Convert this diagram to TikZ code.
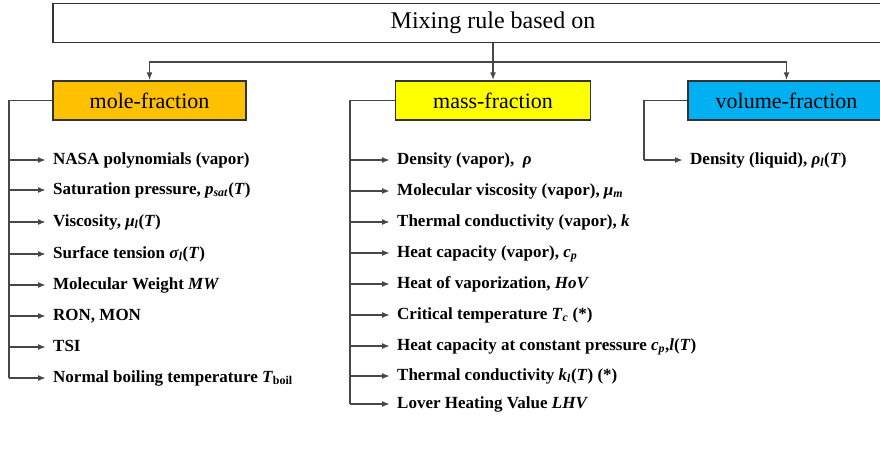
\documentclass[tikz,border=0pt]{standalone}
\usepackage{fontspec}
\setmainfont{Liberation Serif}
\usetikzlibrary{arrows.meta}
\definecolor{moleorange}{HTML}{FFC000}
\definecolor{massyellow}{HTML}{FFFF00}
\definecolor{volblue}{HTML}{00B0F0}
\definecolor{boxline}{HTML}{333333}
\definecolor{wiregray}{HTML}{474747}
\begin{document}
\begin{tikzpicture}[x=1pt,y=-1pt,
  head/.style={draw=boxline,line width=1.5pt,fill=#1,minimum height=39pt,inner sep=0pt,font=\fontsize{22}{26}\selectfont},
  item/.style={anchor=west,inner sep=1pt,text height=12pt,text depth=4pt,font=\fontsize{17}{20}\selectfont\bfseries},
  wire/.style={draw=wiregray,line width=1.7pt},
  down/.style={wire,-{Latex[length=8pt,width=6pt]}},
  tip/.style={down,shorten >=6pt}]
\useasboundingbox (0,0) rectangle (880,450);
% headers
\node[head=white,minimum width=880pt,font=\fontsize{24}{28}\selectfont] (mix) at (493,23) {Mixing rule based on};
\node[head=moleorange,minimum width=193pt] (mole) at (149.5,100.5) {mole-fraction};
\node[head=massyellow,minimum width=195pt] (mass) at (493,100.5) {mass-fraction};
\node[head=volblue,minimum width=197pt] (vol) at (786.5,100.5) {volume-fraction};
\coordinate (split) at (493,62);
\draw[down] (mix.south) -- (mass.north);
\draw[down] (split) -| (mole.north);
\draw[down] (split) -| (vol.north);
% mole-fraction branch
\coordinate (moletrunk) at (9,0);
\foreach \y/\t [count=\i] in {160/{NASA polynomials (vapor)},
  190/{Saturation pressure, \textit{p}\textsubscript{\textit{sat}}(\textit{T})},
  222/{Viscosity, \textit{μ}\textsubscript{\textit{l}}(\textit{T})},
  254/{Surface tension \textit{σ}\textsubscript{\textit{l}}(\textit{T})},
  285/{Molecular Weight \textit{MW}},
  316/{RON, MON},
  347/{TSI},
  378/{Normal boiling temperature \textit{T}\textsubscript{boil}}}
  \node[item] (mo\i) at (52,\y) {\t};
\draw[wire] (mole.west) -| (moletrunk |- mo8.west);
\foreach \i in {1,...,8}
  \draw[tip] (moletrunk |- mo\i.west) -- (mo\i.west);
% mass-fraction branch
\coordinate (masstrunk) at (350,0);
\foreach \y/\t [count=\i] in {160/{Density (vapor),~ \textit{ρ}},
  191/{Molecular viscosity (vapor), \textit{μ}\textsubscript{\textit{m}}},
  222/{Thermal conductivity (vapor), \textit{k}},
  253/{Heat capacity (vapor), \textit{c}\textsubscript{\textit{p}}},
  284/{Heat of vaporization, \textit{HoV}},
  315/{Critical temperature \textit{T}\textsubscript{\textit{c}} (*)},
  346/{Heat capacity at constant pressure \textit{c}\textsubscript{\textit{p}},\textit{l}(\textit{T})},
  376/{Thermal conductivity \textit{k}\textsubscript{\textit{l}}(\textit{T}) (*)},
  404/{Lover Heating Value \textit{LHV}}}
  \node[item] (ma\i) at (396,\y) {\t};
\draw[wire] (mass.west) -| (masstrunk |- ma9.west);
\foreach \i in {1,...,9}
  \draw[tip] (masstrunk |- ma\i.west) -- (ma\i.west);
% volume-fraction branch
\coordinate (voltrunk) at (644,0);
\node[item] (vo1) at (689,160) {Density (liquid), \textit{ρ}\textsubscript{\textit{l}}(\textit{T})};
\draw[wire] (vol.west) -| (voltrunk |- vo1.west);
\draw[tip] (voltrunk |- vo1.west) -- (vo1.west);
\end{tikzpicture}
\end{document}
